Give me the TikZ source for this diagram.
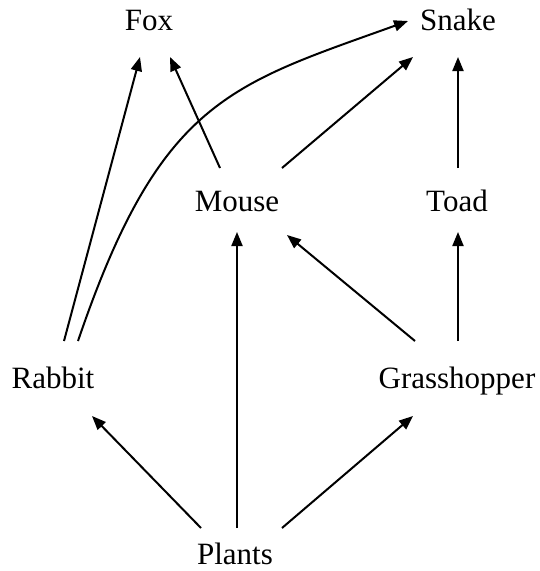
\documentclass[tikz,border=0pt]{standalone}
\usepackage{fontspec}
\setmainfont{Liberation Serif}
\usetikzlibrary{arrows.meta,calc}
\begin{document}
\begin{tikzpicture}[x=1pt,y=-1pt,
  lbl/.style={anchor=base,inner sep=0pt,font=\fontsize{31}{36}\selectfont},
  arr/.style={line width=2pt,-{Triangle[length=14pt,width=11pt]}}]
\useasboundingbox (0,0) rectangle (540,571);
\node[lbl] (fox) at (149,30) {Fox};
\node[lbl] (snake) at (458,30) {Snake};
\node[lbl] (mouse) at (237,211) {Mouse};
\node[lbl] (toad) at (457,211) {Toad};
\node[lbl] (rabbit) at (53,388) {Rabbit};
\node[lbl] (grass) at (457,388) {Grasshopper};
\node[lbl] (plants) at (235,564) {Plants};
% Rabbit
\draw[arr] ($(rabbit.base)+(11,-47)$) -- ($(fox.base)+(-9,27)$);
\draw[arr] ($(rabbit.base)+(25,-47)$) .. controls (160,100) and (230,85) .. ($(snake.base)+(-50,-9)$);
% Mouse
\draw[arr] ($(mouse.base)+(-17,-43)$) -- ($(fox.base)+(21,27)$);
\draw[arr] ($(mouse.base)+(45,-43)$) -- ($(snake.base)+(-45,27)$);
% Toad
\draw[arr] ($(toad.base)+(1,-43)$) -- ($(snake.base)+(0,27)$);
% Grasshopper
\draw[arr] ($(grass.base)+(-42,-47)$) -- ($(mouse.base)+(50,24)$);
\draw[arr] ($(grass.base)+(1,-47)$) -- ($(toad.base)+(1,21)$);
% Plants
\draw[arr] ($(plants.base)+(-34,-36)$) -- ($(rabbit.base)+(39,28)$);
\draw[arr] ($(plants.base)+(2,-36)$) -- ($(mouse.base)+(0,21)$);
\draw[arr] ($(plants.base)+(47,-36)$) -- ($(grass.base)+(-44,28)$);
\end{tikzpicture}
\end{document}
